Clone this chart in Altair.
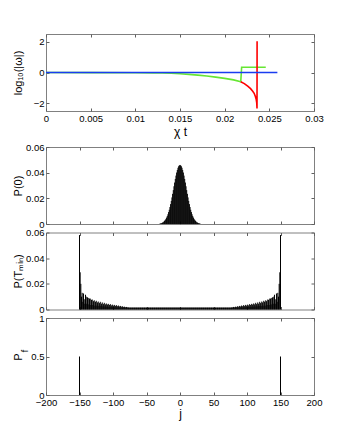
import altair as alt
import pandas as pd

# ---------------- data ----------------
# top panel: log10(|omega|) versus chi*t
blue_x = [0.0, 0.0259]
blue_y = [0.0, 0.0]
green_x = [0.0, 0.005, 0.010, 0.012, 0.013, 0.014, 0.015, 0.016, 0.017, 0.018,
           0.019, 0.020, 0.021, 0.0218, 0.0219, 0.0246]
green_y = [0.0, -0.005, -0.015, -0.025, -0.035, -0.05, -0.08, -0.12, -0.17, -0.23,
           -0.30, -0.38, -0.48, -0.60, 0.34, 0.34]
red_x = [0.0218, 0.0222, 0.02258, 0.0229, 0.02314, 0.0233, 0.02343, 0.02352,
         0.02359, 0.02362, 0.02363]
red_y = [-0.60, -0.72, -0.89, -1.05, -1.22, -1.35, -1.54, -1.72, -1.97, -2.34, 2.03]

# P(0): j = -30..30, values in units of 1e-4
p0_j = list(range(-30, 31))
p0_e4 = [3, 4, 6, 8, 11, 14, 19, 25, 32, 40, 50, 62, 76, 93, 111, 132, 155, 180,
         207, 235, 264, 294, 323, 351, 377, 401, 421, 438, 450, 457,
         460,
         457, 450, 438, 421, 401, 377, 351, 323, 294, 264, 235, 207, 180, 155,
         132, 111, 93, 76, 62, 50, 40, 32, 25, 19, 14, 11, 8, 6, 4, 3]

# P(T_min): j = -150..150 (symmetric), values in units of 1e-4
ptmin_left_e4 = [580, 290, 200, 100, 130, 60, 125, 80, 45, 115,
                 100, 45, 95, 90, 40, 85, 85, 35, 75, 78,
                 35, 65, 72, 30, 60, 68, 30, 55, 62, 28,
                 50, 60, 28, 45, 55, 25, 42, 52, 24, 40,
                 47, 22, 38, 44, 20, 35, 42, 20, 32, 38,
                 18, 30, 36, 17, 28, 34, 16, 26, 31, 16,
                 24, 28, 15, 22, 25, 15, 20, 22, 15, 18,
                 20, 15, 17, 16, 15]
ptmin_center_e4 = [15, 15, 15, 15, 15, 15, 15, 15, 15, 15, 15, 15, 15, 15, 15,
                   15, 15, 15, 15, 15, 15, 15, 15, 15, 15, 15, 15, 15, 15, 15,
                   15, 15, 15, 15, 15, 15, 15, 15, 15, 15, 15, 15, 15, 15, 15,
                   15, 15, 15, 15, 15, 15, 15, 15, 15, 15, 15, 15, 15, 15, 15,
                   15, 15, 15, 15, 15, 15, 15, 15, 15, 15, 15, 15, 15, 15, 15,
                   15, 15, 15, 15, 15, 15, 15, 15, 15, 15, 15, 15, 15, 15, 15,
                   15, 15, 15, 15, 15, 15, 15, 15, 15, 15, 15, 15, 15, 15, 15,
                   15, 15, 15, 15, 15, 15, 15, 15, 15, 15, 15, 15, 15, 15, 15,
                   15, 15, 15, 15, 15, 15, 15, 15, 15, 15, 15, 15, 15, 15, 15,
                   15, 15, 15, 15, 15, 15, 15, 15, 15, 15, 15, 15, 15, 15, 15,
                   15]
ptmin_j = list(range(-150, 151))
ptmin_e4 = ptmin_left_e4 + ptmin_center_e4 + ptmin_left_e4[::-1]

# P_f
pf_j = [-150, 150]
pf_v = [0.5, 0.5]

# ticks
top_xticks = [0, 0.005, 0.01, 0.015, 0.02, 0.025, 0.03]
top_yticks = [-2, 0, 2]
j_ticks = [-200, -150, -100, -50, 0, 50, 100, 150, 200]
p_yticks = [0, 0.02, 0.04, 0.06]
pf_yticks = [0, 0.5, 1]

# ---------------- style ----------------
W, H = 268, 77
FRAME = "#808080"
TICK = "#606060"
FONT = "Liberation Sans"


def ax(values, labels=True, title=None, orient=None, fmt="~g", **kw):
    args = dict(values=values, labels=labels, domain=False, tickSize=3, offset=-3,
                tickColor=TICK, grid=False, labelFlush=False, labelOverlap=False,
                labelPadding=2, format=fmt)
    if orient:
        args["orient"] = orient
    args["title"] = title
    args.update(kw)
    return alt.Axis(**args)


def mirror(xdom, xticks, ydom, yticks):
    df = pd.DataFrame({"mx": [xdom[0]], "my": [ydom[0]]})
    return alt.Chart(df).mark_point(opacity=0).encode(
        x=alt.X("mx:Q", scale=alt.Scale(domain=xdom, nice=False, zero=False),
                axis=ax(xticks, labels=False, orient="top")),
        y=alt.Y("my:Q", scale=alt.Scale(domain=ydom, nice=False, zero=False),
                axis=ax(yticks, labels=False, orient="right")),
    )


ytitle_kw = dict(titleX=-31, titleY=H / 2, titleAngle=270, titleBaseline="middle",
                 titleAlign="center")

# ---------------- top panel ----------------
tx = [0, 0.03]
ty = [-2.5, 2.5]


def line_layer(xs, ys, color, xaxis, yaxis):
    df = pd.DataFrame({"x": xs, "y": ys, "i": list(range(len(xs)))})
    return alt.Chart(df).mark_line(color=color, strokeWidth=1.6).encode(
        x=alt.X("x:Q", scale=alt.Scale(domain=tx, nice=False, zero=False), axis=xaxis),
        y=alt.Y("y:Q", scale=alt.Scale(domain=ty, nice=False, zero=False), axis=yaxis),
        order="i:Q",
    )


top_xaxis = ax(top_xticks, title="χ t", titleFontSize=12, titlePadding=4)
top_yaxis = ax(top_yticks, title="log₁₀(|ω|)", **ytitle_kw)
top_lines = alt.layer(
    line_layer(green_x, green_y, "#66e633", top_xaxis, top_yaxis),
    line_layer(red_x, red_y, "#ff0000", top_xaxis, top_yaxis),
    line_layer(blue_x, blue_y, "#1a3cf0", top_xaxis, top_yaxis),
)
top = alt.layer(top_lines, mirror(tx, top_xticks, ty, top_yticks)).resolve_scale(
    x="independent", y="independent").properties(width=W, height=H)

spacer = alt.Chart(pd.DataFrame({"a": [0]})).mark_point(opacity=0).encode(
    x=alt.X("a:Q", axis=None), y=alt.Y("a:Q", axis=None)
).properties(width=W, height=19, view=alt.ViewBackground(stroke=None))

jx = [-200, 200]


def rule_panel(js, vs, ydom, yticks, ytitle, xlabels, extra=None):
    df = pd.DataFrame({"j": js, "v": vs})
    if xlabels:
        xaxis = ax(j_ticks, title="j", fmt="d", titleFontSize=12, titlePadding=2)
    else:
        xaxis = ax(j_ticks, labels=False, fmt="d")
    yaxis = ax(yticks, title=ytitle, **ytitle_kw)
    main = alt.Chart(df).mark_rule(color="black", strokeWidth=1).encode(
        x=alt.X("j:Q", scale=alt.Scale(domain=jx, nice=False, zero=False), axis=xaxis),
        y=alt.Y("v:Q", scale=alt.Scale(domain=ydom, nice=False, zero=False), axis=yaxis),
        y2=alt.datum(0),
    )
    layers = [main]
    if extra is not None:
        layers.append(extra)
    layers.append(mirror(jx, j_ticks, ydom, yticks))
    return alt.layer(*layers).resolve_scale(x="independent", y="independent").properties(
        width=W, height=H)


p2 = rule_panel(p0_j, [v / 10000 for v in p0_e4], [0, 0.06], p_yticks, "P(0)", False)
p3 = rule_panel(ptmin_j, [v / 10000 for v in ptmin_e4], [0, 0.06], p_yticks,
                "P(Tₘᵢₙ)", False)
sub_f = alt.Chart(pd.DataFrame({"t": ["f"]})).mark_text(
    text="f", angle=270, fontSize=9, font=FONT, color="black"
).encode(x=alt.value(-21.5), y=alt.value(33))
p4 = rule_panel(pf_j, pf_v, [0, 1], pf_yticks, "P", True, extra=sub_f)

chart = alt.vconcat(top, spacer, p2, p3, p4, spacing=8.5, bounds="flush").properties(
    padding={"left": 3, "top": 25, "right": 5, "bottom": 5}
).configure_view(stroke=FRAME, strokeWidth=1).configure_axis(
    labelFont=FONT, labelFontSize=9.5, labelColor="black",
    titleFont=FONT, titleFontSize=11, titleFontWeight="normal", titleColor="black",
)

chart.save("out.html", embed_options={"renderer": "svg", "actions": False})
